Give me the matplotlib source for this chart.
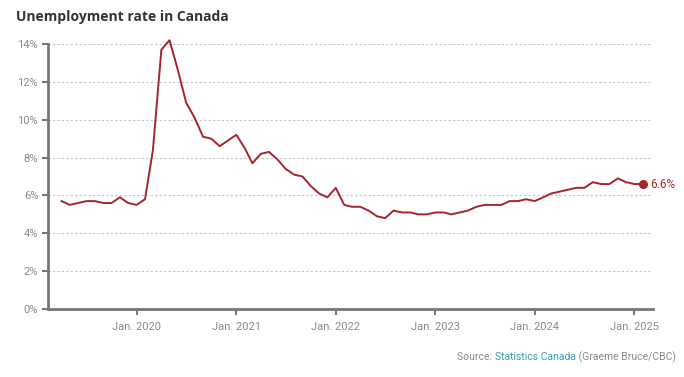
import matplotlib
matplotlib.use('Agg')
import matplotlib.pyplot as plt
import pandas as pd

# monthly unemployment rate (%), Apr 2019 - Feb 2025
start = '2019-04-01'
rate = [5.7, 5.5, 5.6, 5.7, 5.7, 5.6, 5.6, 5.9, 5.6,                  # 2019
        5.5, 5.8, 8.4, 13.7, 14.2, 12.6, 10.9, 10.1, 9.1, 9.0, 8.6, 8.9,  # 2020
        9.2, 8.5, 7.7, 8.2, 8.3, 7.9, 7.4, 7.1, 7.0, 6.5, 6.1, 5.9,     # 2021
        6.4, 5.5, 5.4, 5.4, 5.2, 4.9, 4.8, 5.2, 5.1, 5.1, 5.0, 5.0,     # 2022
        5.1, 5.1, 5.0, 5.1, 5.2, 5.4, 5.5, 5.5, 5.5, 5.7, 5.7, 5.8,     # 2023
        5.7, 5.9, 6.1, 6.2, 6.3, 6.4, 6.4, 6.7, 6.6, 6.6, 6.9, 6.7,     # 2024
        6.6, 6.6]                                                      # 2025
months = pd.date_range(start, periods=len(rate), freq='MS')
yticks = [0, 2, 4, 6, 8, 10, 12, 14]
xtick_years = [2020, 2021, 2022, 2023, 2024, 2025]

red = '#a4262c'
grey = '#8a8a8a'
tickfont = 'Roboto'

fig = plt.figure(figsize=(6.84, 3.77), dpi=100)
ax = fig.add_axes([48/684, 1-309/377, (653-48)/684, (309-44)/377])

ax.plot(months, rate, color=red, lw=1.4, clip_on=False, zorder=3)
ax.plot(months[-1], rate[-1], 'o', color=red, ms=5.5, clip_on=False, zorder=4)
ax.annotate(f'{rate[-1]}%', (months[-1], rate[-1]), xytext=(5, 0),
            textcoords='offset points', va='center', ha='left',
            color=red, fontsize=8.5, family=tickfont)

ax.set_ylim(0, 14)
ax.set_xlim(pd.Timestamp('2019-02-10'), pd.Timestamp('2025-03-10'))
ax.set_yticks(yticks)
ax.set_yticklabels([f'{v}%' for v in yticks])
ticks = [pd.Timestamp(f'{y}-01-01') for y in xtick_years]
ax.set_xticks(ticks)
ax.set_xticklabels([f'Jan. {y}' for y in xtick_years])

for y in yticks[1:]:
    ax.axhline(y, xmax=0.995, color='#c4c4c4', lw=0.8, ls=(0, (2, 2)), zorder=1)

for s in ['top', 'right']:
    ax.spines[s].set_visible(False)
for s in ['left', 'bottom']:
    ax.spines[s].set_color('#777777')
    ax.spines[s].set_linewidth(2)
ax.tick_params(axis='both', colors='#777777', labelcolor=grey, length=4,
               width=1.5, labelsize=8)
ax.tick_params(axis='x', pad=5)
ax.tick_params(axis='y', pad=3)
for lab in ax.get_xticklabels() + ax.get_yticklabels():
    lab.set_family(tickfont)

fig.text(16/684, 1-17/377, 'Unemployment rate in Canada', fontsize=10,
         fontweight='bold', color='#333333', family='Open Sans', va='center')

# source line, built right to left
fig.canvas.draw()
r = fig.canvas.get_renderer()
xpos = 676/684
ypos = 1-357/377
for txt, col in [(' (Graeme Bruce/CBC)', grey), ('Statistics Canada', '#3a9cb3'),
                 ('Source: ', grey)]:
    t = fig.text(xpos, ypos, txt, ha='right', va='center', fontsize=7.5,
                 color=col, family=tickfont)
    bb = t.get_window_extent(renderer=r)
    xpos -= bb.width/fig.bbox.width

fig.savefig('out.png', dpi=100)
